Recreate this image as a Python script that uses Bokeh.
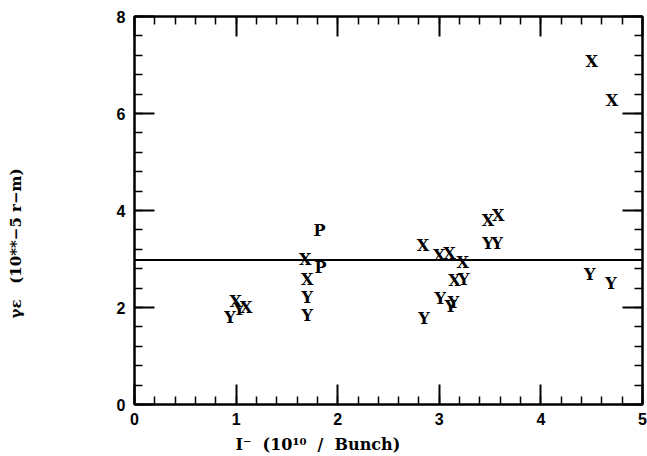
from bokeh.plotting import figure
from bokeh.models import LinearAxis, SingleIntervalTicker, Span, Range1d, Title
from bokeh.core.properties import value
from bokeh.embed import file_html
from bokeh.resources import INLINE

# ---- data ----
x_X = [0.995, 1.10, 1.68, 1.70, 2.84, 3.00, 3.10, 3.23, 3.15, 3.48, 3.58, 4.50, 4.70]
y_X = [2.12, 1.99, 3.00, 2.57, 3.28, 3.07, 3.11, 2.93, 2.56, 3.80, 3.90, 7.08, 6.27]

x_Y = [0.94, 1.03, 1.70, 1.70, 2.85, 3.01, 3.14, 3.11, 3.24, 3.48, 3.57, 4.48, 4.69]
y_Y = [1.80, 1.96, 2.20, 1.84, 1.77, 2.18, 2.10, 2.03, 2.57, 3.31, 3.31, 2.69, 2.49]

x_P = [1.82, 1.83]
y_P = [3.58, 2.82]

mean_level = 2.98

x_label = "I\u207b\u00a0 (10\u00b9\u2070\u00a0 /\u00a0 Bunch)"
y_label = "\u03b3\u03b5\u00a0\u00a0 (10**\u22125 r\u2212m)"

# ---- figure ----
p = figure(width=647, height=456, output_backend="svg", toolbar_location=None,
           x_range=Range1d(0, 5), y_range=Range1d(0, 8),
           min_border_left=134, min_border_right=5, min_border_top=16,
           min_border_bottom=52)
p.grid.visible = False
p.outline_line_color = "black"
p.outline_line_width = 2
p.background_fill_color = "white"
p.border_fill_color = "white"

TICK_FONT = "Liberation Sans"
SERIF = "DejaVu Serif"


def style_axis(ax, ticker, show_labels, standoff):
    ax.ticker = ticker
    ax.major_tick_in = 20
    ax.major_tick_out = 0
    ax.minor_tick_in = 8
    ax.minor_tick_out = 0
    ax.major_tick_line_width = 2
    ax.minor_tick_line_width = 1.5
    ax.major_tick_line_color = "black"
    ax.minor_tick_line_color = "black"
    ax.axis_line_width = 2
    ax.axis_line_color = "black"
    ax.axis_label = None
    ax.major_label_standoff = standoff
    if show_labels:
        ax.major_label_text_font = TICK_FONT
        ax.major_label_text_font_style = "bold"
        ax.major_label_text_font_size = "16px"
        ax.major_label_text_color = "black"
    else:
        ax.major_label_text_font_size = "1px"
        ax.major_label_text_color = None


def spacer(ax, gap):
    # invisible axis label used only to push the outer title outward
    ax.axis_label = " "
    ax.axis_label_text_font_size = "1px"
    ax.axis_label_text_color = None
    ax.axis_label_standoff = gap


def xt():
    return SingleIntervalTicker(interval=1, num_minor_ticks=5)


def yt():
    return SingleIntervalTicker(interval=2, num_minor_ticks=5)


style_axis(p.xaxis[0], xt(), True, 8)
style_axis(p.yaxis[0], yt(), True, 9)
spacer(p.xaxis[0], 3)
spacer(p.yaxis[0], 83)

top = LinearAxis()
style_axis(top, xt(), False, 0)
p.add_layout(top, "above")
right = LinearAxis()
style_axis(right, yt(), False, 0)
p.add_layout(right, "right")

# mean line
p.add_layout(Span(location=mean_level, dimension="width",
                  line_color="black", line_width=2))

# data letters
for xs, ys, letter in ((x_X, y_X, "X"), (x_Y, y_Y, "Y"), (x_P, y_P, "P")):
    p.text(x=xs, y=ys, text=[letter] * len(xs),
           text_font=value(SERIF), text_font_style="bold",
           text_font_size="16px", text_align="center",
           text_baseline="middle", text_color="black")

# axis titles
p.add_layout(Title(text=x_label, align="left", offset=101,
                   vertical_align="top", standoff=0,
                   text_font=SERIF, text_font_style="bold",
                   text_font_size="16px", text_color="black"), "below")
p.add_layout(Title(text=y_label, align="left", offset=86,
                   vertical_align="top", standoff=0,
                   text_font=SERIF, text_font_style="bold",
                   text_font_size="15px", text_color="black"), "left")

open("out.html", "w").write(file_html(p, INLINE))
